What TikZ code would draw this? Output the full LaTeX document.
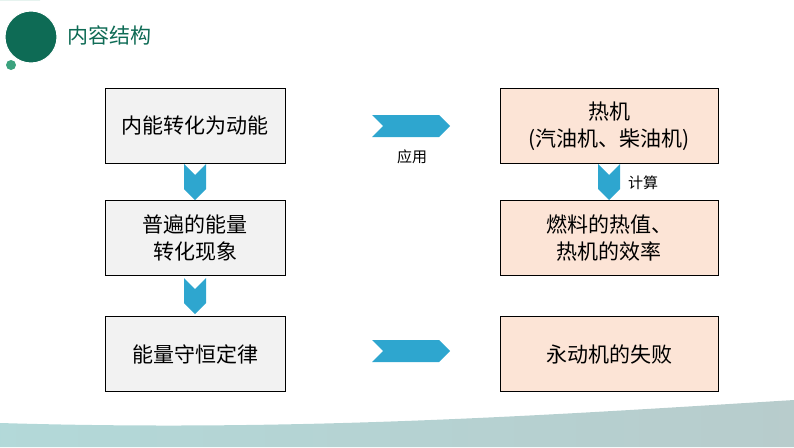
\documentclass[tikz,border=0pt]{standalone}
\usepackage{fontspec}
\setmainfont{Noto Sans CJK SC}
\usetikzlibrary{shapes.symbols,calc}
\definecolor{darkgreen}{HTML}{0E6B55}
\definecolor{midgreen}{HTML}{3BA27E}
\definecolor{arrowblue}{HTML}{2EA6CF}
\definecolor{leftfill}{HTML}{F2F2F2}
\definecolor{rightfill}{HTML}{FCE4D6}
\begin{document}
\begin{tikzpicture}[x=1pt,y=-1pt,
	leftbox/.style={draw,thick,fill=leftfill,minimum width=180pt,minimum height=75pt,align=center,font=\fontsize{21pt}{27pt}\selectfont},
	rightbox/.style={leftbox,fill=rightfill,minimum width=218pt},
	chevright/.style={fill=arrowblue,signal,signal to=east,signal from=west,minimum width=78pt,minimum height=22pt,inner sep=0pt},
	chevdown/.style={fill=arrowblue,signal,signal to=south,signal from=north,minimum width=22pt,minimum height=14pt,inner sep=0pt},
	lbl/.style={font=\fontsize{15pt}{17pt}\selectfont}]
	\useasboundingbox (0,0) rectangle (794,447);
	% logo and title
	\fill[midgreen] (0,0) -- (40,0) arc[start angle=0,end angle=-90,radius=40] -- cycle;
	\fill[darkgreen,draw=white,line width=1pt] (31,37) circle (26);
	\fill[midgreen] (11,65) circle (5);
	\node[text=darkgreen,font=\fontsize{21pt}{23pt}\selectfont,anchor=west] (title) at (64,35) {内容结构};
	% bottom band
	\shade[left color=teal!30,right color=teal!40!gray!40] (0,423) .. controls (300,432) and (550,415) .. (794,400) -- (794,447) -- (0,447) -- cycle;
	% boxes
	\node[leftbox] (heat) at (195,126) {内能转化为动能};
	\node[leftbox] (convert) at (195,238) {普遍的能量\\转化现象};
	\node[leftbox] (conserve) at (195,354) {能量守恒定律};
	\node[rightbox] (engine) at (609,126) {热机\\(汽油机、柴油机)};
	\node[rightbox] (fuel) at (609,238) {燃料的热值、\\热机的效率};
	\node[rightbox] (perpetual) at (609,354) {永动机的失败};
	% arrows
	\node[chevright] (apply) at (411,126) {};
	\node[lbl] at (412,157) {应用};
	\node[chevright] (fail) at (411,351) {};
	\node[chevdown] (d1) at ($(heat.south)!0.5!(convert.north)$) {};
	\node[chevdown] (d2) at ($(convert.south)!0.5!(conserve.north)$) {};
	\node[chevdown] (d3) at ($(engine.south)!0.5!(fuel.north)$) {};
	\node[lbl] at (643,183) {计算};
\end{tikzpicture}
\end{document}
